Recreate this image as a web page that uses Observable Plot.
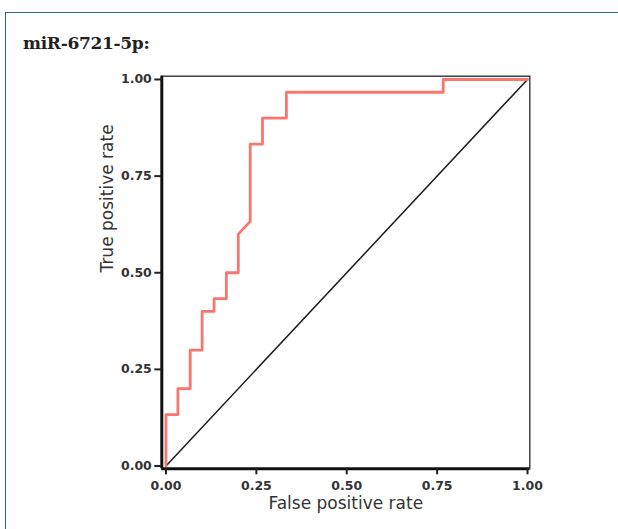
<!DOCTYPE html>
<html>
<head>
<meta charset="utf-8">
<script src="https://cdn.jsdelivr.net/npm/d3@7"></script>
<script src="https://cdn.jsdelivr.net/npm/@observablehq/plot@0.6"></script>
<style>
  html, body { margin: 0; padding: 0; background: #fff; width: 618px; height: 529px; overflow: hidden; }
  #box { position: absolute; left: 5px; top: 12px; width: 640px; height: 540px;
         border-top: 1.5px solid #2e6b69; border-left: 1.5px solid #2e6b69; }
  #title { position: absolute; left: 23px; top: 35px; font: bold 17px/17px "DejaVu Serif", serif; color: #222; white-space: nowrap; letter-spacing: -0.3px; }
  #chart { position: absolute; left: 0; top: 56px; }
  #chart svg { font-family: "DejaVu Sans", sans-serif; }
  #chart g[aria-label="x-axis tick label"], #chart g[aria-label="y-axis tick label"] { font-size: 12.5px; font-weight: bold; }
  #chart g[aria-label="x-axis tick label"] text, #chart g[aria-label="y-axis tick label"] text { font-size: 12.5px; font-weight: bold; }
</style>
</head>
<body>
<div id="box"></div>
<div id="title">miR-6721-5p:</div>
<div id="chart"></div>
<script>
// ROC curve (false positive rate, true positive rate)
const fpr = [0, 0, 0.033, 0.033, 0.067, 0.067, 0.1, 0.1, 0.133, 0.133, 0.167, 0.167, 0.2, 0.2, 0.233, 0.233, 0.267, 0.267, 0.333, 0.333, 0.767, 0.767, 1];
const tpr = [0, 0.133, 0.133, 0.2, 0.2, 0.3, 0.3, 0.4, 0.4, 0.433, 0.433, 0.5, 0.5, 0.6, 0.633, 0.833, 0.833, 0.9, 0.9, 0.967, 0.967, 1, 1];
// chance diagonal
const diagX = [0, 1];
const diagY = [0, 1];
// tick values and labels
const tickValues = [0, 0.25, 0.5, 0.75, 1];
const tickLabels = ["0.00", "0.25", "0.50", "0.75", "1.00"];
const xTitle = "False positive rate";
const yTitle = "True positive rate";

const roc = fpr.map((x, i) => ({x, y: tpr[i]}));
const diag = diagX.map((x, i) => ({x, y: diagY[i]}));
const xDomain = [-0.0116, 1.0064];
const yDomain = [-0.0072, 1.0085];
const fmt = d => tickLabels[tickValues.indexOf(d)];

const chart = Plot.plot({
  width: 618,
  height: 473,
  marginLeft: 161.3,
  marginRight: 88.7,
  marginTop: 19.7,
  marginBottom: 60.7,
  x: {domain: xDomain},
  y: {domain: yDomain},
  marks: [
    Plot.frame({stroke: "#333", strokeWidth: 1.4}),
    Plot.line(diag, {x: "x", y: "y", stroke: "#1a1a1a", strokeWidth: 1.5}),
    Plot.line(roc, {x: "x", y: "y", stroke: "#F8766D", strokeWidth: 2.8}),
    Plot.ruleX([xDomain[0]], {stroke: "#111", strokeWidth: 3}),
    Plot.ruleY([yDomain[0]], {stroke: "#111", strokeWidth: 3}),
    Plot.axisX({ticks: tickValues, tickFormat: fmt, tickSize: 6, tickPadding: 6, strokeWidth: 2, stroke: "#222",
                fontSize: 12.5, fontWeight: "bold", fill: "#333", label: null}),
    Plot.axisY({ticks: tickValues, tickFormat: fmt, tickSize: 7, tickPadding: 3, strokeWidth: 2, stroke: "#222",
                fontSize: 12.5, fontWeight: "bold", fill: "#333", label: null}),
    Plot.text([xTitle], {text: d => d, frameAnchor: "bottom", dy: 40.3, fontSize: 17, fill: "#333"}),
    Plot.text([yTitle], {text: d => d, frameAnchor: "left", rotate: -90, dx: -54.4, fontSize: 17, fill: "#333"})
  ]
});
document.getElementById("chart").appendChild(chart);
</script>
</body>
</html>
